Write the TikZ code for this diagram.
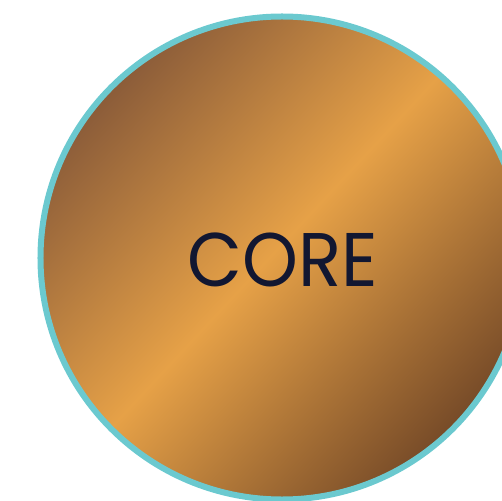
\documentclass[tikz,border=0pt]{standalone}
\usepackage{fontspec}
\newfontfamily\corefont{Poppins}[FakeStretch=0.935]
\definecolor{ctl}{HTML}{8B5C39}
\definecolor{cmid}{HTML}{E6A147}
\definecolor{cbr}{HTML}{774B28}
\definecolor{cteal}{HTML}{6BC9CF}
\definecolor{cnavy}{HTML}{121731}
\pgfdeclareverticalshading{coreshade}{100bp}{color(0bp)=(cbr); color(25bp)=(cbr); color(51bp)=(cmid); color(75bp)=(ctl); color(100bp)=(ctl)}
\tikzset{
  ring/.style={draw=cteal, line width=6pt, circle, minimum size=483pt, inner sep=0pt},
  coretext/.style={text=cnavy, font=\corefont\fontsize{76}{80}\selectfont, inner sep=0pt}
}
\begin{document}
\begin{tikzpicture}[x=1pt,y=-1pt]
\useasboundingbox (-282,-258) rectangle (220,242);
\begin{scope}
\clip (0,0) circle (239pt);
\begin{scope}[transform canvas={rotate=47}]
\shade[shading=coreshade] (-240pt,-240pt) rectangle (240pt,240pt);
\end{scope}
\end{scope}
\node[ring] (core) at (0,0) {};
\node[coretext] (label) at (1,1.5) {CORE};
\end{tikzpicture}
\end{document}
